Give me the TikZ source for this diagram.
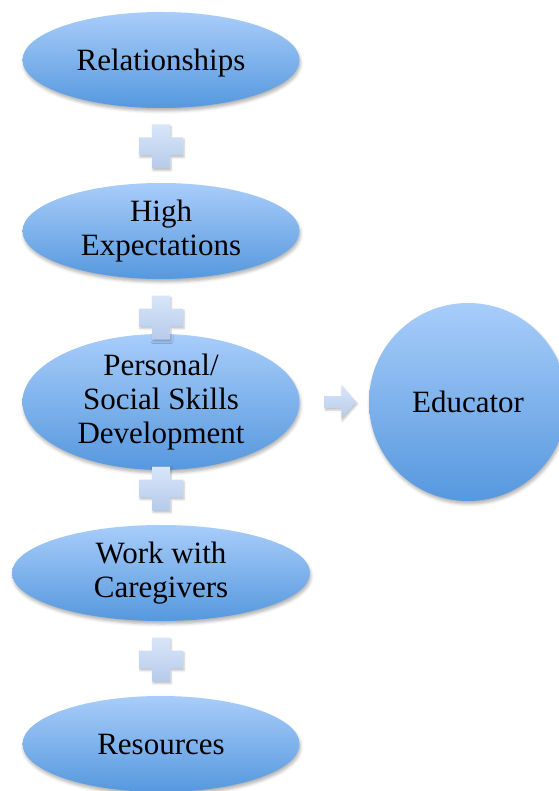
\documentclass[tikz,border=0pt]{standalone}
\usepackage{fontspec}
\setmainfont{Liberation Serif}
\usepackage{xcolor}
\usetikzlibrary{shapes.geometric,shadows.blur,calc}

\definecolor{bubtop}{RGB}{168,205,250}
\definecolor{bubbot}{RGB}{86,152,222}
\definecolor{marktop}{RGB}{216,230,250}
\definecolor{markbot}{RGB}{182,202,234}

\tikzset{
  bubble/.style={ellipse, inner sep=0pt, minimum width=277pt, minimum height=96pt,
    top color=bubtop, bottom color=bubbot, align=center,
    font=\rmfamily\fontsize{31}{34}\selectfont,
    blur shadow={shadow xshift=1pt, shadow yshift=-3pt, shadow opacity=30, shadow blur radius=3pt}},
  markfill/.style={top color=marktop, bottom color=markbot,
    blur shadow={shadow xshift=1pt, shadow yshift=-2pt, shadow opacity=25, shadow blur radius=2pt}},
  plusmark/.pic={
    \path[markfill] (-9,-22) -- (9,-22) -- (9,-9) -- (22,-9) -- (22,9) -- (9,9)
      -- (9,22) -- (-9,22) -- (-9,9) -- (-22,9) -- (-22,-9) -- (-9,-9) -- cycle;
  }
}

\begin{document}
\begin{tikzpicture}[x=1pt, y=-1pt]
\useasboundingbox (0,0) rectangle (558,791);

% Left column
\node[bubble, text depth=0pt] (rel) at (161,60) {Relationships};
\node[bubble] (high) at (161,231) {High\\Expectations};
\node[bubble] (pers) at (161,402) {Personal/\\Social Skills\\Development};
\node[bubble, minimum width=298pt] (care) at (161,573) {Work with\\Caregivers};
\node[bubble] (res) at (161,744) {Resources};

% Target circle
\node[bubble, circle, minimum size=198pt] (educ) at (468,402) {Educator};

% Plus signs
\pic at ($(rel)!0.5!(high)+(0,1)$) {plusmark};
\pic at ($(high)!0.5!(pers)+(0,1)$) {plusmark};
\pic at ($(pers)!0.5!(care)+(0,1)$) {plusmark};
\pic at ($(care)!0.5!(res)+(0,1)$) {plusmark};

% Arrow to the circle
\coordinate (arr) at ($(pers.east)!0.5!(educ.west)+(6,0)$);
\path[markfill] ($(arr)+(-16,-6)$) -- ($(arr)+(1,-6)$) -- ($(arr)+(1,-17)$)
  -- ($(arr)+(16,0)$) -- ($(arr)+(1,17)$) -- ($(arr)+(1,6)$)
  -- ($(arr)+(-16,6)$) -- cycle;

\end{tikzpicture}
\end{document}
